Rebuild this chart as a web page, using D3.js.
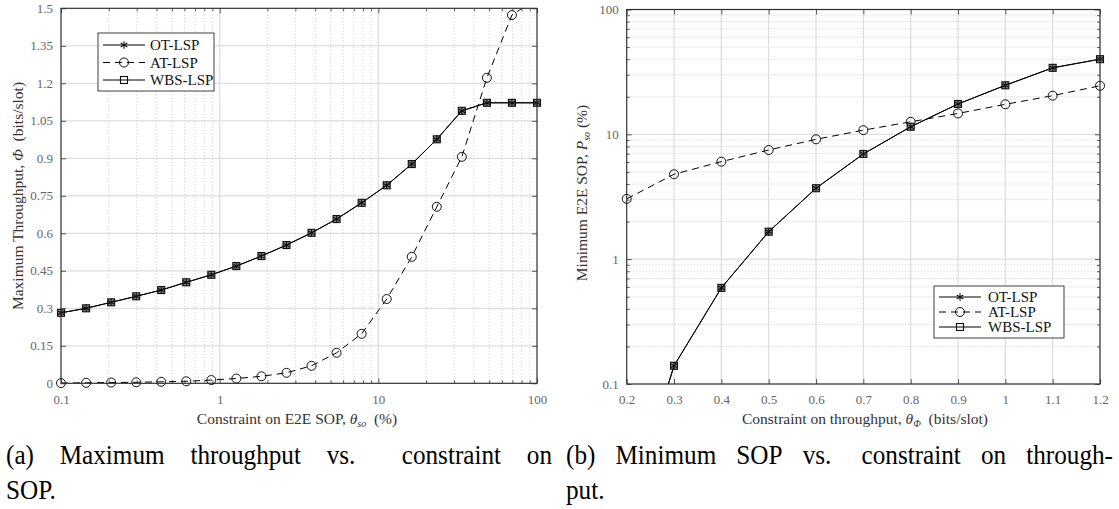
<!DOCTYPE html>
<html>
<head>
<meta charset="utf-8">
<script src="https://cdn.jsdelivr.net/npm/d3@7"></script>
<style>
  body { margin: 0; background: #fff; }
  svg { display: block; font-family: 'Liberation Serif', 'Times New Roman', serif; }
</style>
</head>
<body>
<div id="figure"></div>
<script>
// (a) Maximum throughput vs. constraint on E2E SOP
const sopConstraint = [0.1, 0.144, 0.207, 0.298, 0.428, 0.616, 0.886, 1.274, 1.833, 2.637,
  3.793, 5.456, 7.848, 11.29, 16.24, 23.36, 33.6, 48.33, 69.52, 100];
const otThroughput = [0.282, 0.300, 0.324, 0.348, 0.373, 0.404, 0.434, 0.469, 0.509, 0.553,
  0.602, 0.657, 0.722, 0.792, 0.877, 0.976, 1.090, 1.122, 1.122, 1.122];
const atThroughput = [0.001, 0.002, 0.003, 0.004, 0.006, 0.008, 0.013, 0.019, 0.028, 0.042,
  0.070, 0.122, 0.198, 0.337, 0.506, 0.706, 0.906, 1.222, 1.473, 1.54];
const wbsThroughput = [0.282, 0.300, 0.324, 0.348, 0.373, 0.404, 0.434, 0.469, 0.509, 0.553,
  0.602, 0.657, 0.722, 0.792, 0.877, 0.976, 1.090, 1.122, 1.122, 1.122];

// (b) Minimum SOP vs. constraint on throughput
const throughputConstraint = [0.2, 0.3, 0.4, 0.5, 0.6, 0.7, 0.8, 0.9, 1.0, 1.1, 1.2];
const otSop = [0.0084, 0.140, 0.589, 1.66, 3.70, 6.96, 11.5, 17.5, 24.7, 34.1, 40.0];
const atSop = [3.04, 4.79, 6.04, 7.49, 9.12, 10.8, 12.6, 14.7, 17.4, 20.4, 24.5];
const wbsSop = [0.0084, 0.140, 0.589, 1.66, 3.70, 6.96, 11.5, 17.5, 24.7, 34.1, 40.0];

// Tick values
const throughputTicks = [0, 0.15, 0.3, 0.45, 0.6, 0.75, 0.9, 1.05, 1.2, 1.35, 1.5];
const logTicks = [0.1, 1, 10, 100];
const constraintTicks = [0.2, 0.3, 0.4, 0.5, 0.6, 0.7, 0.8, 0.9, 1, 1.1, 1.2];

const seriesNames = ['OT-LSP', 'AT-LSP', 'WBS-LSP'];

// minor log ticks 2..9 in every decade
let logMinor = [];
[0.1, 1, 10].forEach(d => { for (let k = 2; k < 10; k++) logMinor.push(d * k); });

let svgWidth = 1119;
let svgHeight = 509;

let svg = d3.select('#figure')
  .append('svg')
  .attr('width', svgWidth)
  .attr('height', svgHeight);

svg.append('rect').attr('width', svgWidth).attr('height', svgHeight).attr('fill', '#fff');

// Plot boxes
let boxA = {left: 61, right: 537, top: 8.3, bottom: 383.3};
let boxB = {left: 626.7, right: 1100, top: 9.5, bottom: 384};

let xA = d3.scaleLog().domain([0.1, 100]).range([boxA.left, boxA.right]);
let yA = d3.scaleLinear().domain([0, 1.5]).range([boxA.bottom, boxA.top]);
let xB = d3.scaleLinear().domain([0.2, 1.2]).range([boxB.left, boxB.right]);
let yB = d3.scaleLog().domain([0.1, 100]).range([boxB.bottom, boxB.top]);

let fmt = d3.format('~g');

// Grid lines: solid light for major, dotted for minor
function drawGrid(box, x, y, xMajor, xMinor, yMajor, yMinor) {
  let g = svg.append('g');
  g.selectAll('.xmin').data(xMinor).enter().append('line')
    .attr('x1', d => x(d)).attr('x2', d => x(d))
    .attr('y1', box.top).attr('y2', box.bottom)
    .attr('stroke', '#bdbdbd').attr('stroke-width', 0.8)
    .attr('stroke-dasharray', '1,2.2');
  g.selectAll('.ymin').data(yMinor).enter().append('line')
    .attr('y1', d => y(d)).attr('y2', d => y(d))
    .attr('x1', box.left).attr('x2', box.right)
    .attr('stroke', '#bdbdbd').attr('stroke-width', 0.8)
    .attr('stroke-dasharray', '1,2.2');
  g.selectAll('.xmaj').data(xMajor).enter().append('line')
    .attr('x1', d => x(d)).attr('x2', d => x(d))
    .attr('y1', box.top).attr('y2', box.bottom)
    .attr('stroke', '#dedede').attr('stroke-width', 1.3);
  g.selectAll('.ymaj').data(yMajor).enter().append('line')
    .attr('y1', d => y(d)).attr('y2', d => y(d))
    .attr('x1', box.left).attr('x2', box.right)
    .attr('stroke', '#dedede').attr('stroke-width', 1.3);
}

// Axes with inward ticks on all four sides
function drawAxes(box, x, y, xMajor, xMinor, yMajor, yMinor) {
  let g = svg.append('g');
  g.append('g').attr('transform', `translate(0, ${box.bottom})`)
    .call(d3.axisBottom(x).tickValues(xMajor).tickFormat(fmt).tickSize(-5).tickSizeOuter(0).tickPadding(11));
  g.append('g').attr('transform', `translate(${box.left}, 0)`)
    .call(d3.axisLeft(y).tickValues(yMajor).tickFormat(fmt).tickSize(-5).tickSizeOuter(0).tickPadding(8));
  g.append('g').attr('transform', `translate(0, ${box.top})`)
    .call(d3.axisTop(x).tickValues(xMajor).tickFormat('').tickSize(-5).tickSizeOuter(0));
  g.append('g').attr('transform', `translate(${box.right}, 0)`)
    .call(d3.axisRight(y).tickValues(yMajor).tickFormat('').tickSize(-5).tickSizeOuter(0));
  if (xMinor.length) {
    g.append('g').attr('transform', `translate(0, ${box.bottom})`)
      .call(d3.axisBottom(x).tickValues(xMinor).tickFormat('').tickSize(-3).tickSizeOuter(0));
    g.append('g').attr('transform', `translate(0, ${box.top})`)
      .call(d3.axisTop(x).tickValues(xMinor).tickFormat('').tickSize(-3).tickSizeOuter(0));
  }
  if (yMinor.length) {
    g.append('g').attr('transform', `translate(${box.left}, 0)`)
      .call(d3.axisLeft(y).tickValues(yMinor).tickFormat('').tickSize(-3).tickSizeOuter(0));
    g.append('g').attr('transform', `translate(${box.right}, 0)`)
      .call(d3.axisRight(y).tickValues(yMinor).tickFormat('').tickSize(-3).tickSizeOuter(0));
  }
  g.selectAll('.domain').remove();
  g.selectAll('line').attr('stroke', '#333').attr('stroke-width', 0.8);
  g.selectAll('text')
    .attr('fill', '#666')
    .attr('font-size', '13px')
    .attr('font-family', "'Liberation Serif', serif");
  // box
  g.append('rect')
    .attr('x', box.left).attr('y', box.top)
    .attr('width', box.right - box.left).attr('height', box.bottom - box.top)
    .attr('fill', 'none').attr('stroke', '#2b2b2b').attr('stroke-width', 1.1);
}

// Marker shapes
function drawMarker(g, kind, cx, cy, filled) {
  if (kind === 'circle') {
    g.append('circle').attr('cx', cx).attr('cy', cy).attr('r', 4.5)
      .attr('fill', 'none').attr('stroke', '#111').attr('stroke-width', 1);
  } else if (kind === 'square') {
    g.append('rect').attr('x', cx - 3.5).attr('y', cy - 3.5).attr('width', 7).attr('height', 7)
      .attr('fill', filled ? '#8a8a8a' : 'none').attr('stroke', '#111').attr('stroke-width', 1.1);
  } else {
    g.append('path')
      .attr('d', `M${cx},${cy - 3.8}V${cy + 3.8}M${cx - 3.3},${cy - 1.9}L${cx + 3.3},${cy + 1.9}M${cx - 3.3},${cy + 1.9}L${cx + 3.3},${cy - 1.9}`)
      .attr('stroke', '#111').attr('stroke-width', 1.1).attr('fill', 'none');
  }
}

function drawSeries(box, x, y, xs, ys, dash, marker, clipId) {
  let pts = xs.map((d, i) => [d, ys[i]]);
  let line = d3.line().x(d => x(d[0])).y(d => y(d[1]));
  svg.append('path')
    .datum(pts)
    .attr('d', line)
    .attr('clip-path', `url(#${clipId})`)
    .attr('fill', 'none')
    .attr('stroke', '#000')
    .attr('stroke-width', 1)
    .attr('stroke-dasharray', dash);
  let g = svg.append('g');
  let [x0, x1] = x.domain();
  let [y0, y1] = y.domain();
  pts.filter(d => d[0] >= x0 && d[0] <= x1 && d[1] >= y0 && d[1] <= y1)
    .forEach(d => drawMarker(g, marker, x(d[0]), y(d[1]), true));
}

function addClip(id, box) {
  svg.append('clipPath').attr('id', id)
    .append('rect')
    .attr('x', box.left).attr('y', box.top)
    .attr('width', box.right - box.left).attr('height', box.bottom - box.top);
}

function drawLegend(x0, y0, w, h, rows, lineX0, lineX1, textX) {
  let g = svg.append('g');
  g.append('rect').attr('x', x0).attr('y', y0).attr('width', w).attr('height', h)
    .attr('fill', '#fff').attr('stroke', '#2b2b2b').attr('stroke-width', 0.9);
  let markers = ['asterisk', 'circle', 'square'];
  let dashes = [null, '7,5', null];
  seriesNames.forEach((name, i) => {
    let yy = rows[i];
    g.append('line').attr('x1', lineX0).attr('x2', lineX1).attr('y1', yy).attr('y2', yy)
      .attr('stroke', '#000').attr('stroke-width', 1)
      .attr('stroke-dasharray', dashes[i]);
    drawMarker(g, markers[i], (lineX0 + lineX1) / 2, yy, false);
    g.append('text').attr('x', textX).attr('y', yy).attr('dy', '0.35em')
      .attr('font-size', '15px').attr('fill', '#111')
      .text(name);
  });
}

// Panel (a)
addClip('clipA', boxA);
drawGrid(boxA, xA, yA, logTicks, logMinor, throughputTicks, []);
drawSeries(boxA, xA, yA, sopConstraint, atThroughput, '7,5', 'circle', 'clipA');
drawSeries(boxA, xA, yA, sopConstraint, wbsThroughput, null, 'square', 'clipA');
drawSeries(boxA, xA, yA, sopConstraint, otThroughput, null, 'asterisk', 'clipA');
drawAxes(boxA, xA, yA, logTicks, logMinor, throughputTicks, []);
drawLegend(98, 33, 116, 58, [45, 62.5, 80], 103, 145, 150);

// Panel (b)
addClip('clipB', boxB);
drawGrid(boxB, xB, yB, constraintTicks, [], logTicks, logMinor);
drawSeries(boxB, xB, yB, throughputConstraint, atSop, '7,5', 'circle', 'clipB');
drawSeries(boxB, xB, yB, throughputConstraint, wbsSop, null, 'square', 'clipB');
drawSeries(boxB, xB, yB, throughputConstraint, otSop, null, 'asterisk', 'clipB');
drawAxes(boxB, xB, yB, constraintTicks, [], logTicks, logMinor);
drawLegend(934, 286, 130, 52, [297, 312, 327], 939, 981, 988);

// Axis labels
let labelColor = '#333';

let xLabelA = svg.append('text')
  .attr('x', 297).attr('y', 424)
  .attr('text-anchor', 'middle').attr('font-size', '15.5px').attr('fill', labelColor);
xLabelA.append('tspan').text('Constraint on E2E SOP, ');
xLabelA.append('tspan').attr('font-style', 'italic').text('\u03b8');
xLabelA.append('tspan').attr('font-style', 'italic').attr('font-size', '10px').attr('dy', 3).text('so');
xLabelA.append('tspan').attr('dy', -3).text('\u00a0\u00a0(%)');

let xLabelB = svg.append('text')
  .attr('x', 865).attr('y', 424)
  .attr('text-anchor', 'middle').attr('font-size', '15.5px').attr('fill', labelColor);
xLabelB.append('tspan').text('Constraint on throughput, ');
xLabelB.append('tspan').attr('font-style', 'italic').text('\u03b8');
xLabelB.append('tspan').attr('font-style', 'italic').attr('font-size', '10px').attr('dy', 3).text('\u03a6');
xLabelB.append('tspan').attr('dy', -3).text('\u00a0\u00a0(bits/slot)');

let yLabelA = svg.append('text')
  .attr('transform', 'translate(18, 196) rotate(-90)')
  .attr('dy', '0.35em')
  .attr('text-anchor', 'middle').attr('font-size', '15.5px').attr('fill', labelColor);
yLabelA.append('tspan').text('Maximum Throughput, ');
yLabelA.append('tspan').attr('font-style', 'italic').text('\u03a6');
yLabelA.append('tspan').text('\u00a0\u00a0(bits/slot)');

let yLabelB = svg.append('text')
  .attr('transform', 'translate(582, 193) rotate(-90)')
  .attr('dy', '0.35em')
  .attr('text-anchor', 'middle').attr('font-size', '15.5px').attr('fill', labelColor);
yLabelB.append('tspan').text('Minimum E2E SOP, ');
yLabelB.append('tspan').attr('font-style', 'italic').text('P');
yLabelB.append('tspan').attr('font-style', 'italic').attr('font-size', '10px').attr('dy', 3).text('so');
yLabelB.append('tspan').attr('dy', -3).text('\u00a0(%)');

// Sub-figure captions, justified like the LaTeX source
let capSize = 28;
let capSqueeze = 0.9;

function captionLine(words, x0, x1, baseline, gapWeights) {
  let g = svg.append('g')
    .attr('transform', `translate(${x0}, ${baseline}) scale(${capSqueeze}, 1)`);
  let texts = words.map(w => g.append('text')
    .attr('font-size', capSize + 'px')
    .attr('fill', '#000')
    .text(w));
  if (!gapWeights) return;
  let widths = texts.map(t => t.node().getComputedTextLength());
  let free = (x1 - x0) / capSqueeze - d3.sum(widths);
  let wsum = d3.sum(gapWeights);
  let pos = 0;
  texts.forEach((t, i) => {
    t.attr('x', pos);
    pos += widths[i] + (i < gapWeights.length ? free * gapWeights[i] / wsum : 0);
  });
}

captionLine(['(a)', 'Maximum', 'throughput', 'vs.', 'constraint', 'on'], 6, 552, 464, [1, 1, 1, 1.8, 1]);
captionLine(['SOP.'], 6, 0, 499, null);
captionLine(['(b)', 'Minimum', 'SOP', 'vs.', 'constraint', 'on', 'through-'], 566, 1113, 464, [1, 1, 1, 1.5, 1, 1]);
captionLine(['put.'], 566, 0, 499, null);
</script>
</body>
</html>
